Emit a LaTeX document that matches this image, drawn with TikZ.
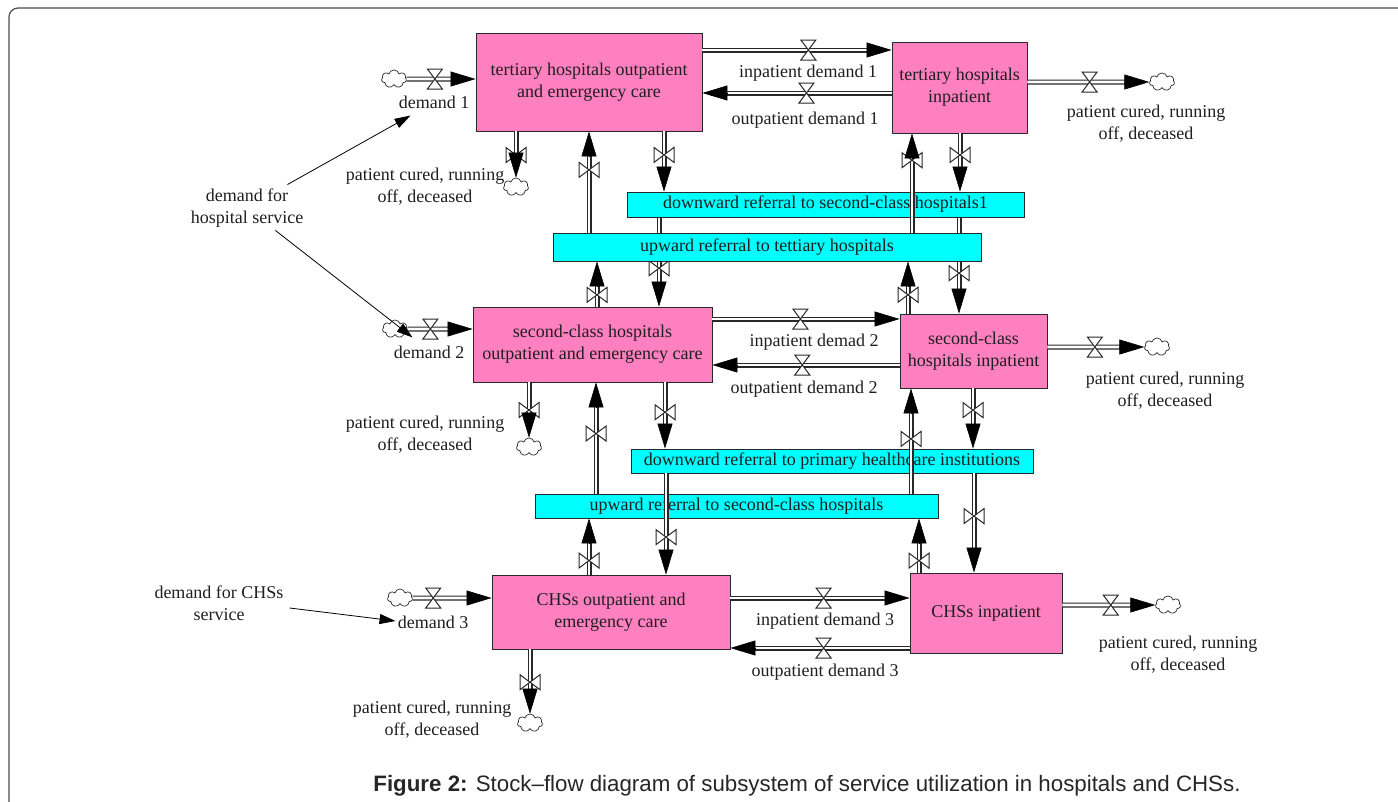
\documentclass[tikz,border=0pt]{standalone}
\usepackage{fontspec}
\setmainfont{Liberation Serif}
\newfontfamily\capfont{Liberation Sans}
\usetikzlibrary{shapes,shapes.symbols,arrows.meta,calc}
\pgfdeclarelayer{back}
\pgfsetlayers{back,main}
\definecolor{sfpink}{RGB}{255,128,192}
\definecolor{sfcyan}{RGB}{0,255,255}
\definecolor{sfline}{RGB}{40,40,40}
\tikzset{
  sf_text/.style = {font=\fontsize{18}{22}\selectfont, text=black!88, align=center, inner sep=0pt},
  sf_stock/.style = {sf_text, rectangle, draw=sfline, fill=sfpink, line width=0.9pt},
  sf_aux/.style = {sf_text, rectangle, draw=sfline, fill=sfcyan, line width=0.9pt},
  sf_cloud/.style = {cloud, cloud puffs=7, aspect=1.4, draw=sfline, fill=white, inner sep=0pt, minimum width=25pt, minimum height=18pt, line width=0.7pt},
  sf_pipe/.style = {draw=sfline, line width=5pt, shorten >=9pt},
  sf_core/.style = {draw=white, line width=2.6pt, shorten >=9pt},
  sf_head/.style = {-{Triangle[length=25pt,width=15pt]}, black, line width=0.5pt},
  sf_link/.style = {-{Triangle[length=16pt,width=10pt]}, black, line width=0.8pt},
  sf_lbl/.style = {sf_text},
  sf_frame/.style = {draw=black!70, line width=1.2pt, rounded corners=9pt},
  sf_valve/.pic = {\draw[sfline, fill=white, line width=1pt] (-7.5,-10) -- (7.5,-10) -- (-7.5,10) -- (7.5,10) -- cycle;}
}
% pipe with valve and arrow head: from, to, valve position
\newcommand{\sfflow}[3]{%
  \draw[sf_pipe] (#1) -- (#2);
  \draw[sf_core] (#1) -- (#2);
  \path (#1) -- (#2) pic[pos=#3, sloped] {sf_valve};
  \draw[sf_head] ($(#2)!25pt!(#1)$) -- (#2);
}

\begin{document}
\begin{tikzpicture}[x=1pt, y=-1pt]
\useasboundingbox (0,0) rectangle (1398,801);
\draw[sf_frame] (9,815) -- (9,8) -- (1415,8);

% stocks
\node [sf_stock, minimum width=226pt, minimum height=98pt] (TO) at (589,82) {tertiary hospitals outpatient\\and emergency care};
\node [sf_stock, minimum width=135pt, minimum height=91pt] (TI) at (959.5,87.5) {tertiary hospitals\\inpatient};
\node [sf_stock, minimum width=239pt, minimum height=75pt] (SO) at (592.5,344.5) {second-class hospitals\\outpatient and emergency care};
\node [sf_stock, minimum width=147pt, minimum height=74pt] (SI) at (973.5,351) {second-class\\hospitals inpatient};
\node [sf_stock, minimum width=238pt, minimum height=74pt] (CO) at (611,612) {CHSs outpatient and\\emergency care};
\node [sf_stock, minimum width=152pt, minimum height=80pt] (CI) at (986,613) {CHSs inpatient};

% referral boxes
\node [sf_aux, minimum width=397pt, minimum height=25pt] (D1) at (825.5,204.5) {downward referral to second-class hospitals1};
\node [sf_aux, minimum width=428pt, minimum height=28pt] (U1) at (767,247) {upward referral to tettiary hospitals};
\node [sf_aux, minimum width=402pt, minimum height=24pt] (D2) at (832,461) {downward referral to primary healthcare institutions};
\node [sf_aux, minimum width=403pt, minimum height=24pt] (U2) at (736.5,506) {upward referral to second-class hospitals};

% clouds
\node [sf_cloud] (c1) at (394,79) {};
\node [sf_cloud] (c2) at (1162,82) {};
\node [sf_cloud] (c3) at (516,187) {};
\node [sf_cloud] (c4) at (395,329) {};
\node [sf_cloud] (c5) at (1157,347) {};
\node [sf_cloud] (c6) at (529,447) {};
\node [sf_cloud] (c7) at (400,598) {};
\node [sf_cloud] (c8) at (1168,605) {};
\node [sf_cloud] (c9) at (530,723) {};

% labels
\node [sf_lbl] (dm1) at (434,102) {demand 1};
\node [sf_lbl] (in1) at (808,73) {inpatient demand 1};
\node [sf_lbl] (out1) at (805,120) {outpatient demand 1};
\node [sf_lbl] (cur1) at (1146,124) {patient cured, running\\off, deceased};
\node [sf_lbl] (cur2) at (425,187) {patient cured, running\\off, deceased};
\node [sf_lbl] (hs) at (247,208) {demand for\\hospital service};
\node [sf_lbl] (dm2) at (429,352) {demand 2};
\node [sf_lbl] (in2) at (814,342) {inpatient demad 2};
\node [sf_lbl] (out2) at (804,389) {outpatient demand 2};
\node [sf_lbl] (cur3) at (1165,391) {patient cured, running\\off, deceased};
\node [sf_lbl] (cur4) at (425,435) {patient cured, running\\off, deceased};
\node [sf_lbl] (chs) at (219,603) {demand for CHSs\\service};
\node [sf_lbl] (dm3) at (433,622) {demand 3};
\node [sf_lbl] (in3) at (825,621) {inpatient demand 3};
\node [sf_lbl] (out3) at (825,672) {outpatient demand 3};
\node [sf_lbl] (cur5) at (1178,655) {patient cured, running\\off, deceased};
\node [sf_lbl] (cur6) at (432,720) {patient cured, running\\off, deceased};

% pipe ends
\coordinate (d1e) at (TO.west |- c1);
\coordinate (in1s) at (TO.east |- 0,50);
\coordinate (in1e) at (TI.west |- 0,50);
\coordinate (out1s) at (TI.west |- 0,93);
\coordinate (out1e) at (TO.east |- 0,93);
\coordinate (cu1s) at (TI.east |- c2);
\coordinate (cu2s) at (TO.south -| c3);
\coordinate (upTOs) at (U1.north -| 589,0);
\coordinate (upTOe) at (TO.south -| 589,0);
\coordinate (dnTOs) at (TO.south -| 664,0);
\coordinate (dnTOe) at (D1.north -| 664,0);
\coordinate (upTIs) at (U1.north -| 912,0);
\coordinate (upTIe) at (TI.south -| 912,0);
\coordinate (dnTIs) at (TI.south -| 960,0);
\coordinate (dnTIe) at (D1.north -| 960,0);
\coordinate (upSOs) at (SO.north -| 597,0);
\coordinate (upSOe) at (U1.south -| 597,0);
\coordinate (dnSOs) at (D1.south -| 659,0);
\coordinate (dnSOe) at (SO.north -| 659,0);
\coordinate (upSIs) at (SI.north -| 908,0);
\coordinate (upSIe) at (U1.south -| 908,0);
\coordinate (dnSIs) at (D1.south -| 959,0);
\coordinate (dnSIe) at (SI.north -| 959,0);
\coordinate (d2e) at (SO.west |- c4);
\coordinate (in2s) at (SO.east |- 0,319);
\coordinate (in2e) at (SI.west |- 0,319);
\coordinate (out2s) at (SI.west |- 0,365);
\coordinate (out2e) at (SO.east |- 0,365);
\coordinate (cu3s) at (SI.east |- c5);
\coordinate (cu4s) at (SO.south -| c6);
\coordinate (up2Ss) at (U2.north -| 596,0);
\coordinate (up2Se) at (SO.south -| 596,0);
\coordinate (dn2Ss) at (SO.south -| 665,0);
\coordinate (dn2Se) at (D2.north -| 665,0);
\coordinate (up2Is) at (U2.north -| 911,0);
\coordinate (up2Ie) at (SI.south -| 911,0);
\coordinate (dn2Is) at (SI.south -| 973,0);
\coordinate (dn2Ie) at (D2.north -| 973,0);
\coordinate (upCOs) at (CO.north -| 589,0);
\coordinate (upCOe) at (U2.south -| 589,0);
\coordinate (dnCOs) at (D2.south -| 666,0);
\coordinate (dnCOe) at (CO.north -| 666,0);
\coordinate (upCIs) at (CI.north -| 919,0);
\coordinate (upCIe) at (U2.south -| 919,0);
\coordinate (dnCIs) at (D2.south -| 974,0);
\coordinate (dnCIe) at (CI.north -| 974,0);
\coordinate (d3e) at (CO.west |- c7);
\coordinate (in3s) at (CO.east |- 0,598);
\coordinate (in3e) at (CI.west |- 0,598);
\coordinate (out3s) at (CI.west |- 0,648);
\coordinate (out3e) at (CO.east |- 0,648);
\coordinate (cu5s) at (CI.east |- c8);
\coordinate (cu6s) at (CO.south -| c9);

% flows, tertiary level
\sfflow{c1.east}{d1e}{.41}
\sfflow{in1s}{in1e}{.56}
\sfflow{out1s}{out1e}{.45}
\sfflow{cu1s}{c2.west}{.51}
\sfflow{cu2s}{c3.north}{.51}
\sfflow{upTOs}{upTOe}{.62}
\sfflow{dnTOs}{dnTOe}{.39}
\sfflow{upTIs}{upTIe}{.73}
\sfflow{dnTIs}{dnTIe}{.37}
\sfflow{upSOs}{upSOe}{.26}
\sfflow{upSIs}{upSIe}{.36}
\begin{pgfonlayer}{back}
\sfflow{dnSOs}{dnSOe}{.57}
\sfflow{dnSIs}{dnSIe}{.58}
\end{pgfonlayer}

% flows, second-class level
\sfflow{c4.east}{d2e}{.35}
\sfflow{in2s}{in2e}{.47}
\sfflow{out2s}{out2e}{.52}
\sfflow{cu3s}{c5.west}{.49}
\sfflow{cu4s}{c6.north}{.5}
\sfflow{up2Ss}{up2Se}{.54}
\sfflow{dn2Ss}{dn2Se}{.45}
\sfflow{up2Is}{up2Ie}{.52}
\sfflow{dn2Is}{dn2Ie}{.36}

% flows, CHSs level
\sfflow{upCOs}{upCOe}{.25}
\sfflow{dnCOs}{dnCOe}{.63}
\sfflow{upCIs}{upCIe}{.22}
\sfflow{dnCIs}{dnCIe}{.43}
\sfflow{c7.east}{d3e}{.26}
\sfflow{in3s}{in3e}{.52}
\sfflow{out3s}{out3e}{.48}
\sfflow{cu5s}{c8.west}{.52}
\sfflow{cu6s}{c9.north}{.51}

% information links
\draw[sf_link] ($(hs.north east)+(-16,-4)$) -- ($(dm1.south west)+(12,7)$);
\draw[sf_link] ($(hs.south east)+(-28,3)$) -- ($(dm2.north west)+(19,-8)$);
\draw[sf_link] ($(chs.east)+(6,5)$) -- ($(dm3.west)+(-2,-1)$);

\node [font=\capfont\fontsize{22.3}{26}\selectfont, text=black!85] (cap) at (807,786) {\textbf{Figure 2:} Stock–flow diagram of subsystem of service utilization in hospitals and CHSs.};
\end{tikzpicture}
\end{document}
